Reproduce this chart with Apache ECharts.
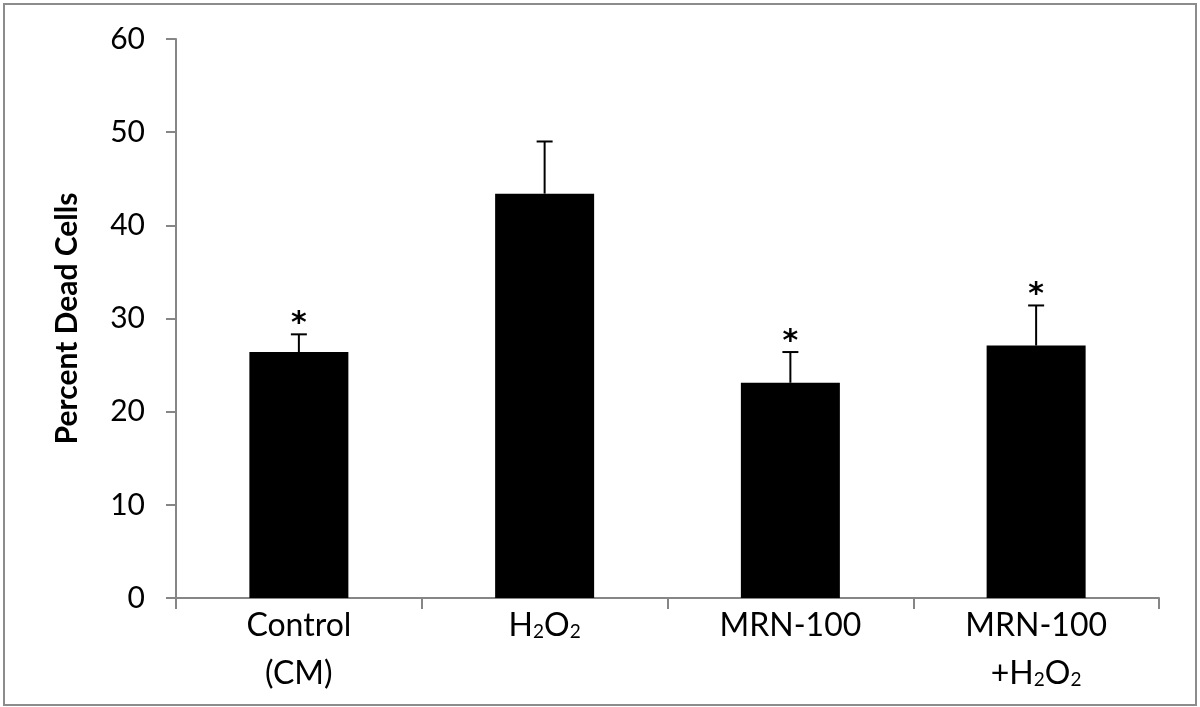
<!DOCTYPE html>
<html>
<head>
<meta charset="utf-8">
<script src="https://cdn.jsdelivr.net/npm/echarts@6/dist/echarts.min.js"></script>
<style>
  html, body { margin: 0; padding: 0; background: #fff; }
  #main { width: 1200px; height: 707px; }
</style>
</head>
<body>
<div id="main"></div>
<script>
// data
var categories = ['Control\n(CM)', 'H2O2', 'MRN-100', 'MRN-100\n+H2O2'];
var means = [26.4, 43.4, 23.1, 27.1];
var errors = [1.9, 5.6, 3.3, 4.3];
var starred = [true, false, true, true];
var yTicks = [0, 10, 20, 30, 40, 50, 60];

var axisGrey = '#868686';
var labelFont = 'Lato, "Noto Sans", sans-serif';

// turn "H2O2" into rich text with small subscripts
function subLabel(txt) {
  return txt.replace(/H2O2/g, 'H{s|2}O{s|2}');
}

var myChart = echarts.init(document.getElementById('main'));

var option = {
  backgroundColor: '#fff',
  animation: false,
  graphic: [{
    type: 'rect',
    shape: { x: 4, y: 4, width: 1192, height: 701 },
    style: { fill: 'none', stroke: '#8c8c8c', lineWidth: 2 },
    silent: true
  }],
  grid: { left: 176, right: 41, top: 39, bottom: 109 },
  xAxis: {
    type: 'category',
    data: categories,
    axisLine: { lineStyle: { color: axisGrey, width: 2 } },
    axisTick: { show: true, length: 11, lineStyle: { color: axisGrey, width: 2 } },
    axisLabel: {
      margin: 4,
      color: '#000',
      fontFamily: labelFont,
      fontSize: 32,
      lineHeight: 48,
      formatter: function (v) { return subLabel(v); },
      rich: {
        s: { fontSize: 19, fontFamily: labelFont, color: '#000', padding: [11, 0, 0, 0] }
      }
    }
  },
  yAxis: {
    type: 'value',
    min: yTicks[0],
    max: yTicks[yTicks.length - 1],
    interval: 10,
    name: 'Percent Dead Cells',
    nameLocation: 'middle',
    nameGap: 94,
    nameTextStyle: { fontFamily: labelFont, fontWeight: 'bold', fontSize: 30, color: '#000' },
    axisLine: { show: true, lineStyle: { color: axisGrey, width: 2 } },
    axisTick: { show: true, length: 10, lineStyle: { color: axisGrey, width: 2 } },
    axisLabel: { margin: 31, color: '#000', fontFamily: labelFont, fontSize: 30 },
    splitLine: { show: false }
  },
  series: [
    {
      type: 'bar',
      data: means,
      barWidth: 99,
      itemStyle: { color: '#000' }
    },
    {
      type: 'custom',
      data: means.map(function (m, i) { return [i, m, errors[i], starred[i] ? 1 : 0]; }),
      z: 5,
      renderItem: function (params, api) {
        var i = api.value(0);
        var base = api.coord([i, api.value(1)]);
        var top = api.coord([i, api.value(1) + api.value(2)]);
        var children = [
          { type: 'line', shape: { x1: base[0], y1: base[1], x2: top[0], y2: top[1] },
            style: { stroke: '#000', lineWidth: 2 } },
          { type: 'line', shape: { x1: top[0] - 8, y1: top[1], x2: top[0] + 8, y2: top[1] },
            style: { stroke: '#000', lineWidth: 2 } }
        ];
        if (api.value(3)) {
          children.push({
            type: 'text',
            style: {
              text: '*', x: top[0], y: top[1] - 10,
              align: 'center', verticalAlign: 'middle',
              font: 'bold 30px "DejaVu Sans", sans-serif', fill: '#000'
            }
          });
        }
        return { type: 'group', children: children };
      }
    }
  ]
};

myChart.setOption(option);
window.onresize = function () {
  myChart.resize();
};
</script>
</body>
</html>
